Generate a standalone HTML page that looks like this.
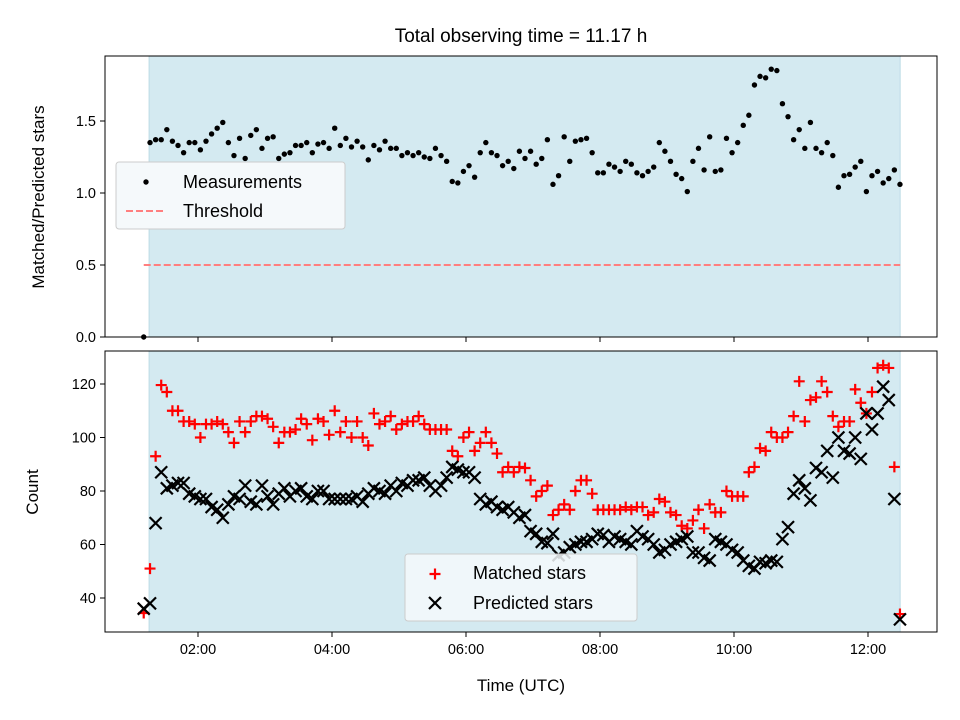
<!DOCTYPE html>
<html><head><meta charset="utf-8"><style>
body{margin:0;background:#fff;}
svg{display:block;font-family:"Liberation Sans","DejaVu Sans",sans-serif;}
</style></head><body>
<svg id="chart" width="960" height="720" viewBox="0 0 960 720">
<rect x="0" y="0" width="960" height="720" fill="#fff"/>
<text x="521" y="42" font-size="19" text-anchor="middle">Total observing time = 11.17 h</text>
<g id="top"></g>
<g id="bot"></g>
</svg>
<script>
const ratioValues=[0,1.35,1.37,1.37,1.44,1.36,1.33,1.28,1.35,1.35,1.30,1.36,1.41,1.45,1.49,1.35,1.26,1.38,1.24,1.40,1.44,1.31,1.38,1.39,1.24,1.27,1.28,1.33,1.33,1.35,1.28,1.34,1.35,1.31,1.45,1.33,1.38,1.32,1.36,1.32,1.23,1.33,1.30,1.36,1.31,1.31,1.26,1.28,1.26,1.28,1.25,1.24,1.31,1.26,1.22,1.08,1.07,1.15,1.19,1.11,1.28,1.35,1.28,1.26,1.19,1.22,1.17,
1.29,1.24,1.29,1.20,1.24,1.37,1.06,1.12,1.39,1.22,1.36,1.37,1.38,1.28,1.14,1.14,1.20,1.18,1.15,1.22,1.20,1.14,1.12,1.15,1.18,1.35,1.29,1.22,1.13,1.10,1.01,1.22,1.31,1.16,1.39,1.15,1.16,1.38,1.28,1.35,1.47,1.54,1.75,1.81,1.80,1.86,1.85,1.62,1.53,1.37,1.44,1.31,1.49,1.31,1.28,1.35,1.26,1.04,1.12,1.13,1.18,1.22,1.01,1.12,1.15,1.07,1.10,1.16,1.06];
const matchedValues=[34.4,51,93,119.6,117,110,110,106,106,105,100,105,105,106,105,102,98,106,102,106,108,108,107,104,98,102,102,103,107,105,99,107,106,101,110,102,106,100,106,100,97,109,105,106,108,103,105,106,106,108,105,103,103,103,103,95,93,100,102,95,98,102,98,94,87,89,87,89,
88.6,84,78,80,82,71,73,75,73,80,84,84,79,73,73,73,73,73,74,73,74,74,71,72,77,76,72,71,67,66,69,73,66,75,72,72,80,78,78,78,87,89,96,95,102,100,100,102,108,121,106,114,115,121,117,108,104,106,106,118,113,109,117,126,127,126,89,34];
const predictedValues=[36,38,68,87,81,82,83,83,79,78,77,77,74,73,70,75,78,77,82,76,75,82,78,75,79,81,78,80,81,78,77,80,80,77,77,77,77,77,78,76,79,81,80,79,82,80,83,82,84,84,85,82,80,82,85,89,88,87,87,85,77,75,76,74,73,74,72,70,
71,65,64,61,60.5,64,56,57,59,60,61,61,62,64,63.5,61,63,62,61,60,65,63,62,60,57,58,60,61,62,63,57,57,55,54,62,61,60,58,57,54,52,51,53.5,53,54,53.5,62,66.5,79,84,81,76.5,88.6,87,95,85,100,95,94,100,92,109,103,109,119,114,77,32];
const firstTime=1.19, startTime=1.284, timeStep=0.08353;
const xTickHours=[2,4,6,8,10,12];
const xTickLabels=["02:00","04:00","06:00","08:00","10:00","12:00"];
const topTicks=[0,0.5,1.0,1.5];
const topTickLabels=["0.0","0.5","1.0","1.5"];
const botTicks=[40,60,80,100,120];
const threshold=0.5;
const spanStart=1.27, spanEnd=12.48;

const NS="http://www.w3.org/2000/svg";
function mk(parent,tag,attrs){const e=document.createElementNS(NS,tag);for(const k in attrs)e.setAttribute(k,attrs[k]);parent.appendChild(e);return e;}
const times=ratioValues.map((_,i)=>i===0?firstTime:startTime+(i-1)*timeStep);
const X=h=>64+67*h;
const Ytop=v=>337-144*v;
const Ybot=v=>384-(v-120)*2.675;
const L=105,R=937;
const topG=document.getElementById('top'), botG=document.getElementById('bot');

function panel(g,y0,y1){
  let s=mk(g,'rect',{x:X(spanStart),y:y0,width:X(spanEnd)-X(spanStart),height:y1-y0,fill:'#d4eaf1',stroke:'#bcdbe6','stroke-width':1});
  
  
}
function frame(g,y0,y1){
  let f=mk(g,'rect',{x:L,y:y0,width:R-L,height:y1-y0,fill:'none',stroke:'#000','stroke-width':1});
  
  
  xTickHours.forEach(h=>{mk(g,'line',{x1:X(h),x2:X(h),y1:y1,y2:y1+5,stroke:'#000'});});
}
panel(topG,56,337);
let th=mk(topG,'line',{x1:X(firstTime),x2:X(spanEnd),y1:Ytop(threshold),y2:Ytop(threshold),stroke:'#ff7f7f','stroke-width':2,'stroke-dasharray':'7,3'});


ratioValues.forEach((v,i)=>{
  const c=mk(topG,'circle',{cx:X(times[i]),cy:Ytop(v),r:2.7,fill:'#000'});
  
  
});
frame(topG,56,337);
topTicks.forEach((t,i)=>{
  mk(topG,'line',{x1:L-5,x2:L,y1:Ytop(t),y2:Ytop(t),stroke:'#000'});
  const tx=mk(topG,'text',{x:L-9,y:Ytop(t)+5,'font-size':14.5,'text-anchor':'end'});
  tx.textContent=topTickLabels[i];
  
  
});
const lg=mk(topG,'g',{});


mk(lg,'rect',{x:116,y:162,width:229,height:67,rx:3,fill:'#f5f9fb',stroke:'#ccc'});
mk(lg,'circle',{cx:146,cy:182,r:2.7,fill:'#000'});
mk(lg,'line',{x1:126,x2:166,y1:211,y2:211,stroke:'#ff7f7f','stroke-width':2,'stroke-dasharray':'7,3'});
let t1=mk(lg,'text',{x:183,y:188,'font-size':18});t1.textContent='Measurements';
let t2=mk(lg,'text',{x:183,y:217,'font-size':18});t2.textContent='Threshold';
let yl=mk(topG,'text',{x:0,y:0,'font-size':17,'text-anchor':'middle',transform:'translate(44,197) rotate(-90)'});
yl.textContent='Matched/Predicted stars';



panel(botG,351,632);
matchedValues.forEach((v,i)=>{
  const x=X(times[i]),y=Ybot(v);
  const p=mk(botG,'path',{d:`M${x-5.5},${y}H${x+5.5}M${x},${y-5.5}V${y+5.5}`,stroke:'#f00','stroke-width':2.2});
  
  
});
predictedValues.forEach((v,i)=>{
  const x=X(times[i]),y=Ybot(v);
  const p=mk(botG,'path',{d:`M${x-6},${y-6}L${x+6},${y+6}M${x-6},${y+6}L${x+6},${y-6}`,stroke:'#000','stroke-width':2.2});
  
  
});
const lg2=mk(botG,'g',{});


mk(lg2,'rect',{x:405,y:554,width:232,height:67,rx:3,fill:'#f5f9fb','fill-opacity':0.85,stroke:'#ccc'});
mk(lg2,'path',{d:'M429.5,574H440.5M435,568.5V579.5',stroke:'#f00','stroke-width':2.2});
mk(lg2,'path',{d:'M429,597L441,609M429,609L441,597',stroke:'#000','stroke-width':2.2});
let t3=mk(lg2,'text',{x:473,y:579,'font-size':18});t3.textContent='Matched stars';
let t4=mk(lg2,'text',{x:473,y:609,'font-size':18});t4.textContent='Predicted stars';
frame(botG,351,632);
botTicks.forEach(t=>{
  mk(botG,'line',{x1:L-5,x2:L,y1:Ybot(t),y2:Ybot(t),stroke:'#000'});
  const tx=mk(botG,'text',{x:L-9,y:Ybot(t)+5,'font-size':14.5,'text-anchor':'end'});
  tx.textContent=String(t);
  
  
});
xTickHours.forEach((h,i)=>{
  const tx=mk(botG,'text',{x:X(h),y:654,'font-size':14.5,'text-anchor':'middle'});
  tx.textContent=xTickLabels[i];
  
  
});
let xl=mk(botG,'text',{x:521,y:691,'font-size':17,'text-anchor':'middle'});
xl.textContent='Time (UTC)';


let yl2=mk(botG,'text',{x:0,y:0,'font-size':17,'text-anchor':'middle',transform:'translate(38,492) rotate(-90)'});
yl2.textContent='Count';


</script>
</body></html>
